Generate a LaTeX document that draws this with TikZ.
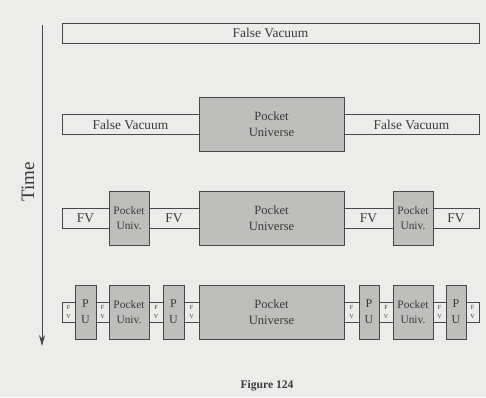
\documentclass[tikz,border=0pt]{standalone}
\usepackage{fontspec}
\setmainfont{Liberation Serif}
\usetikzlibrary{arrows.meta, positioning}
\definecolor{paper}{HTML}{ECECEA}
\definecolor{pocketgray}{HTML}{BEBEBC}
\definecolor{ink}{HTML}{484848}
\definecolor{letter}{HTML}{3A3A3A}

\begin{document}
\begin{tikzpicture}[x=1pt, y=-1pt,
  box/.style={draw=ink, line width=0.9pt, inner sep=0pt, outer sep=0pt, text=letter, align=center},
  vac/.style={box, minimum height=20pt, font=\fontsize{13.4}{16}\selectfont},
  fv/.style={box, minimum height=20pt, font=\fontsize{6.2}{8.8}\selectfont},
  pocket/.style={box, fill=pocketgray, minimum height=54pt},
  big/.style={pocket, minimum width=145pt, font=\fontsize{12.6}{16}\selectfont},
  small/.style={pocket, minimum width=40pt, font=\fontsize{11.4}{15}\selectfont},
  pu/.style={pocket, font=\fontsize{12}{16}\selectfont}]

  % page
  \fill[paper] (0,0) rectangle (486,397);
  \useasboundingbox (0,0) rectangle (486,397);

  % time axis
  \coordinate (t0) at (42,25);
  \coordinate (t1) at (42,346);
  \draw[ink, line width=0.9pt, -{Stealth[length=11pt, width=6pt]}] (t0) -- (t1);
  \node[rotate=90, text=letter, font=\fontsize{19}{22}\selectfont] (time) at (28,182) {Time};

  % row 1
  \node[vac, minimum width=417pt] (fv1) at (270.5,33) {False Vacuum};

  % row 2
  \node[big] (pu2) at (271.5,124.5) {Pocket\\Universe};
  \node[vac, minimum width=137pt, left=0pt of pu2] (fv2a) {False Vacuum};
  \node[vac, minimum width=135pt, right=0pt of pu2] (fv2b) {False Vacuum};

  % row 3
  \node[big] (pu3) at (271.5,218.5) {Pocket\\Universe};
  \node[vac, minimum width=50pt, left=0pt of pu3] (fv3b) {FV};
  \node[small, left=0pt of fv3b] (pu3a) {Pocket\\Univ.};
  \node[vac, minimum width=47pt, left=0pt of pu3a] (fv3a) {FV};
  \node[vac, minimum width=49pt, right=0pt of pu3] (fv3c) {FV};
  \node[small, right=0pt of fv3c] (pu3b) {Pocket\\Univ.};
  \node[vac, minimum width=46pt, right=0pt of pu3b] (fv3d) {FV};

  % row 4
  \node[big] (pu4) at (271.5,312) {Pocket\\Universe};
  \node[fv, minimum width=15pt, left=0pt of pu4] (fv4c) {F\\V};
  \node[pu, minimum width=21pt, left=0pt of fv4c] (p4b) {P\\U};
  \node[fv, minimum width=14pt, left=0pt of p4b] (fv4b) {F\\V};
  \node[small, left=0pt of fv4b] (pu4a) {Pocket\\Univ.};
  \node[fv, minimum width=13pt, left=0pt of pu4a] (fv4a2) {F\\V};
  \node[pu, minimum width=21pt, left=0pt of fv4a2] (p4a) {P\\U};
  \node[fv, minimum width=13pt, left=0pt of p4a] (fv4a) {F\\V};
  \node[fv, minimum width=15pt, right=0pt of pu4] (fv4d) {F\\V};
  \node[pu, minimum width=20pt, right=0pt of fv4d] (p4c) {P\\U};
  \node[fv, minimum width=14pt, right=0pt of p4c] (fv4e) {F\\V};
  \node[small, right=0pt of fv4e] (pu4b) {Pocket\\Univ.};
  \node[fv, minimum width=13pt, right=0pt of pu4b] (fv4f) {F\\V};
  \node[pu, minimum width=20pt, right=0pt of fv4f] (p4d) {P\\U};
  \node[fv, minimum width=13pt, right=0pt of p4d] (fv4g) {F\\V};

  % caption
  \node[text=letter, font=\fontsize{11.6}{14}\selectfont\bfseries] (cap) at (267,386) {Figure 124};
\end{tikzpicture}
\end{document}
